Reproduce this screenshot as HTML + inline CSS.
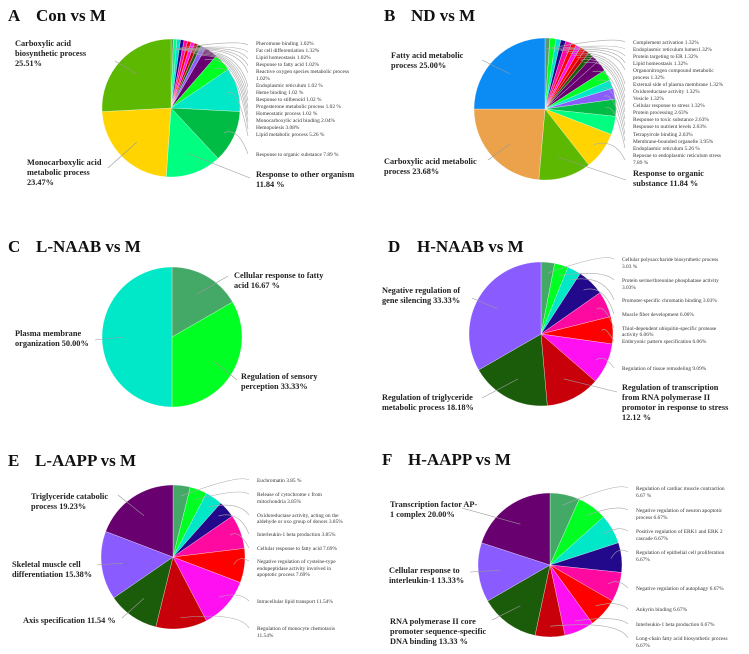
<!DOCTYPE html>
<html><head><meta charset="utf-8"><style>
html,body{margin:0;padding:0;background:#fff}
svg{display:block}
.t{font-family:"Liberation Serif",serif;font-weight:bold;font-size:17px;fill:#111}
.b{font-family:"Liberation Serif",serif;font-weight:bold;font-size:8.3px;fill:#222}
.s{font-family:"Liberation Serif",serif;font-size:5.4px;fill:#333}
</style></head><body>
<svg id="sv" width="749" height="654" viewBox="0 0 749 654" xmlns="http://www.w3.org/2000/svg">
<g id="pies"></g>
<text class="t" x="8" y="21">A</text><text class="t" x="36" y="21">Con vs M</text>
<text class="t" x="384" y="21">B</text><text class="t" x="411" y="21">ND vs M</text>
<text class="t" x="8" y="252">C</text><text class="t" x="36" y="252">L-NAAB vs M</text>
<text class="t" x="388" y="252">D</text><text class="t" x="417" y="252">H-NAAB vs M</text>
<text class="t" x="8" y="466">E</text><text class="t" x="35" y="466">L-AAPP vs M</text>
<text class="t" x="382" y="465">F</text><text class="t" x="408" y="465">H-AAPP vs M</text>

<text class="b" x="15" y="46">Carboxylic acid</text>
<text class="b" x="15" y="56">biosynthetic process</text>
<text class="b" x="15" y="66">25.51%</text>
<text class="b" x="27" y="165">Monocarboxylic acid</text>
<text class="b" x="27" y="175">metabolic process</text>
<text class="b" x="27" y="185">23.47%</text>
<text class="b" x="256" y="177">Response to other organism</text>
<text class="b" x="256" y="187">11.84 %</text>
<g class="s">
<text x="256" y="45">Pheromone binding  1.02%</text>
<text x="256" y="52">Fat cell differentiation  1.32%</text>
<text x="256" y="59">Lipid  homeostasis  1.02%</text>
<text x="256" y="66">Response to fatty acid  1.02%</text>
<text x="256" y="73">Reactive oxygen species metabolic process</text>
<text x="256" y="80">1.02%</text>
<text x="256" y="87">Endoplasmic reticulum  1.02 %</text>
<text x="256" y="94">Heme binding  1.02 %</text>
<text x="256" y="101">Response to stilbenoid  1.02 %</text>
<text x="256" y="108">Progesterone metabolic process 1.02 %</text>
<text x="256" y="115">Homeostatic process 1.02 %</text>
<text x="256" y="122">Monocarboxylic  acid binding  2.04%</text>
<text x="256" y="129">Hemopoiesis  3.08%</text>
<text x="256" y="136">Lipid  metabolic process 5.26 %</text>
<text x="256" y="156">Response to organic substance 7.89 %</text>
</g>

<text class="b" x="391" y="58">Fatty acid metabolic</text>
<text class="b" x="391" y="68">process 25.00%</text>
<text class="b" x="384" y="164">Carboxylic  acid metabolic</text>
<text class="b" x="384" y="174">process 23.68%</text>
<text class="b" x="633" y="176">Response to organic</text>
<text class="b" x="633" y="186">substance 11.84 %</text>
<g class="s">
<text x="633" y="44">Complement activation  1.32%</text>
<text x="633" y="51">Endoplasmic  reticulum lumen1.32%</text>
<text x="633" y="58">Protein targeting to ER 1.32%</text>
<text x="633" y="65">Lipid homeostasis 1.32%</text>
<text x="633" y="72">Organonitrogen compound metabolic</text>
<text x="633" y="79">process 1.32%</text>
<text x="633" y="86">External side of plasma membrane 1.32%</text>
<text x="633" y="93">Oxidoreductase activity 1.32%</text>
<text x="633" y="100">Vesicle 1.32%</text>
<text x="633" y="107">Cellular response to stress 1.32%</text>
<text x="633" y="114">Protein processing 2.63%</text>
<text x="633" y="121">Response to toxic substance 2.63%</text>
<text x="633" y="128">Response to nutrient levels 2.63%</text>
<text x="633" y="136">Tetrapyrrole binding  2.63%</text>
<text x="633" y="143">Membrane-bounded organelle  3.95%</text>
<text x="633" y="150">Endoplasmic reticulum  5.26 %</text>
<text x="633" y="157">Reposne to endoplasmic reticulum  stress</text>
<text x="633" y="164">7.89 %</text>
</g>

<text class="b" x="234" y="278">Cellular  response to fatty</text>
<text class="b" x="234" y="288">acid 16.67 %</text>
<text class="b" x="15" y="336">Plasma membrane</text>
<text class="b" x="15" y="346">organization 50.00%</text>
<text class="b" x="241" y="379">Regulation of sensory</text>
<text class="b" x="241" y="389">perception 33.33%</text>

<text class="b" x="382" y="293">Negative regulation of</text>
<text class="b" x="382" y="303">gene silencing 33.33%</text>
<text class="b" x="382" y="400">Regulation of triglyceride</text>
<text class="b" x="382" y="410">metabolic process  18.18%</text>
<text class="b" x="622" y="390">Regulation of transcription</text>
<text class="b" x="622" y="400">from RNA polymerase II</text>
<text class="b" x="622" y="410">promotor in response to stress</text>
<text class="b" x="622" y="420">12.12 %</text>
<g class="s">
<text x="622" y="261">Cellular  polysaccharide biosynthetic process</text>
<text x="622" y="268">3.03 %</text>
<text x="622" y="282">Protein serine/threonine phosphatase activity</text>
<text x="622" y="289">3.03%</text>
<text x="622" y="302">Promoter-specific chromatin binding  3.03%</text>
<text x="622" y="316">Muscle fiber development  6.06%</text>
<text x="622" y="330">Thiol-dependent  ubiquitin-specific  protease</text>
<text x="622" y="336">activity  6.06%</text>
<text x="622" y="343">Embryonic  pattern specification  6.06%</text>
<text x="622" y="370">Regulation of tissue remodeling  9.09%</text>
</g>

<text class="b" x="31" y="499">Triglyceride  catabolic</text>
<text class="b" x="31" y="509">process 19.23%</text>
<text class="b" x="12" y="567">Skeletal muscle cell</text>
<text class="b" x="12" y="577">differentiation  15.38%</text>
<text class="b" x="23" y="623">Axis specification 11.54 %</text>
<g class="s">
<text x="257" y="482">Euchromatin 3.85 %</text>
<text x="257" y="496">Release of cytochrome c from</text>
<text x="257" y="503">mitochondria  3.85%</text>
<text x="257" y="517">Oxidoreductase activity,  acting on the</text>
<text x="257" y="523">aldehyde or oxo group of donors 3.85%</text>
<text x="257" y="536">Interleukin-1  beta production  3.85%</text>
<text x="257" y="550">Cellular  response to fatty acid  7.69%</text>
<text x="257" y="563">Negative regulation  of  cysteine-type</text>
<text x="257" y="570">endopeptidase activity involved  in</text>
<text x="257" y="576">apoptotic process 7.69%</text>
<text x="257" y="603">Intracellular  lipid  transport 11.54%</text>
<text x="257" y="630">Regulation of monocyte chemotaxis</text>
<text x="257" y="637">11.54%</text>
</g>

<text class="b" x="390" y="507">Transcription  factor AP-</text>
<text class="b" x="390" y="517">1 complex 20.00%</text>
<text class="b" x="389" y="573">Cellular  response to</text>
<text class="b" x="389" y="583">interleukin-1  13.33%</text>
<text class="b" x="390" y="624">RNA polymerase II core</text>
<text class="b" x="390" y="634">promoter sequence-specific</text>
<text class="b" x="390" y="644">DNA binding 13.33 %</text>
<g class="s">
<text x="636" y="490">Regulation of cardiac muscle contraction</text>
<text x="636" y="497">6.67 %</text>
<text x="636" y="512">Negative regulation  of neuron apoptotic</text>
<text x="636" y="519">process 6.67%</text>
<text x="636" y="533">Positive regulation  of ERK1 and ERK 2</text>
<text x="636" y="540">cascade 6.67%</text>
<text x="636" y="554">Regulation of epithelial  cell proliferation</text>
<text x="636" y="561">6.67%</text>
<text x="636" y="590">Negative regulation  of autophagy 6.67%</text>
<text x="636" y="611">Ankyrin binding  6.67%</text>
<text x="636" y="626">Interleukin-1  beta production  6.67%</text>
<text x="636" y="640">Long-chain fatty acid biosynthetic process</text>
<text x="636" y="647">6.67%</text>
</g>
</svg>
<script>
var G='#44a866',L='#00ff22',T='#00e8c8',N='#22088a',P='#ff0aa0',R='#ff0000',M='#ff10f0',C='#c8000a',D='#1b5c0b',V='#8a5cff',U='#680070',YG='#5cb800',GO='#ffd400',SG='#00ff80',DG='#00bb44',BL='#0a8cf4',OR='#eba24a',GR='#5a9a6a',CY='#00e0d0';
var pies=[
 {cx:171,cy:108,r:69,s:[[0,2,GR],[2,5,SG],[5,8,CY],[8,11,N],[11,14,P],[14,17,R],[17,20,M],[20,23,C],[23,26,D],[26,30,V],[30,41,U],[41,56,L],[56,93,T],[93,137,DG],[137,184,SG],[184,267,GO],[267,360,YG]],
  sm:[[1,45],[4,52],[7,59],[10,66],[13,73],[16,87],[19,94],[22,101],[25,108],[28,115],[35,122],[48,129],[75,136],[115,154]],lx:256},
 {cx:545,cy:109,r:71,s:[[0,4,GR],[4,9,L],[9,13,CY],[13,17,N],[17,22,P],[22,26,R],[26,30,M],[30,34,R],[34,38,C],[38,42,D],[42,48,U],[48,57,U],[57,66,L],[66,73,T],[73,82,V],[82,96,DG],[96,111,SG],[111,142,GO],[142,185,YG],[185,270,OR],[270,360,BL]],
  sm:[[2,42],[6,49],[11,56],[15,63],[20,70],[24,84],[28,91],[32,98],[36,105],[40,112],[52,119],[62,126],[70,134],[78,141],[89,148],[126,160]],lx:633},
 {cx:172,cy:337,r:70,s:[[0,60,G],[60,180,L],[180,360,T]],sm:[],lx:0},
 {cx:541,cy:334,r:72,s:[[0,11,G],[11,22,L],[22,33,T],[33,55,N],[55,76,P],[76,98,R],[98,131,M],[131,175,C],[175,240,D],[240,360,V]],
  sm:[[6,259],[17,280],[28,300],[44,314],[66,328],[87,341],[115,368]],lx:622},
 {cx:173,cy:557,r:72,s:[[0,13.9,G],[13.9,27.7,L],[27.7,41.6,T],[41.6,55.4,N],[55.4,83.1,P],[83.1,110.8,R],[110.8,152.3,M],[152.3,193.8,C],[193.8,235.4,D],[235.4,290.8,V],[290.8,360,U]],
  sm:[[7,480],[21,494],[35,515],[48,534],[69,548],[97,561],[131,601],[173,628]],lx:257},
 {cx:550,cy:565,r:72,s:[[0,24,G],[24,48,L],[48,72,T],[72,96,N],[96,120,P],[120,144,R],[144,168,M],[168,192,C],[192,240,D],[240,288,V],[288,360,U]],
  sm:[[12,488],[36,510],[60,531],[84,552],[108,588],[132,609],[156,624],[180,638]],lx:636}
];
var big=[[0,315,115,61],[0,225,108,168],[0,160,250,178],[1,315,482,60],[1,225,488,160],[1,165,626,180],
 [2,30,228,276],[2,270,95,340],[2,120,237,380],[3,300,472,298],[3,207,482,398],[3,153,617,392],
 [4,325,118,495],[4,263,97,565],[4,215,122,618],[5,324,462,508],[5,264,470,572],[5,216,492,620]];
var ns='http://www.w3.org/2000/svg',g=document.getElementById('pies');
function pt(p,a,f){var t=(a-90)*Math.PI/180;return [p.cx+p.r*f*Math.cos(t),p.cy+p.r*f*Math.sin(t)];}
function el(n,at){var e=document.createElementNS(ns,n);for(var k in at)e.setAttribute(k,at[k]);g.appendChild(e);return e;}
pies.forEach(function(p){
 p.s.forEach(function(s){var a=pt(p,s[0],1),b=pt(p,s[1],1),lg=(s[1]-s[0])>180?1:0;
  el('path',{d:'M'+p.cx+','+p.cy+'L'+a[0]+','+a[1]+'A'+p.r+','+p.r+' 0 '+lg+' 1 '+b[0]+','+b[1]+'Z',fill:s[2],stroke:'#fff','stroke-width':0.3});});
 p.sm.forEach(function(m){var a=pt(p,m[0],0.85),ex=p.lx-8,ey=m[1];
  el('path',{d:'M'+a[0]+','+a[1]+'Q'+(ex-10)+','+(Math.min(a[1],ey)-6)+' '+ex+','+ey,fill:'none',stroke:'#aaa','stroke-width':0.6});});
});
big.forEach(function(b){var p=pies[b[0]],a=pt(p,b[1],0.7);
 el('path',{d:'M'+a[0]+','+a[1]+'L'+b[2]+','+b[3],fill:'none',stroke:'#999','stroke-width':0.6});});
</script>
</body></html>
